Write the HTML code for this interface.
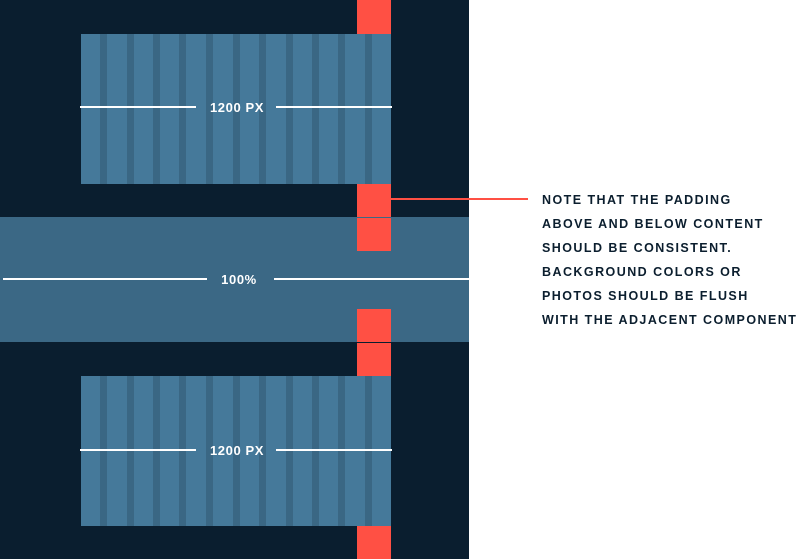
<!DOCTYPE html>
<html><head><meta charset="utf-8"><style>
html,body{margin:0;padding:0;background:#fff;width:797px;height:559px;overflow:hidden}
svg{display:block}
</style></head><body>
<svg width="797" height="559" viewBox="0 0 797 559" xmlns="http://www.w3.org/2000/svg">
<rect x="0" y="0" width="469" height="559" fill="#0a1e2f"/>
<rect x="0" y="217" width="469" height="125" fill="#3b6885"/>
<g fill="#45799a">
<rect x="81" y="34" width="310" height="150"/>
<rect x="81" y="376" width="310" height="150"/>
</g>
<g fill="#3a6784">
<rect x="100" y="34" width="7" height="150"/><rect x="127" y="34" width="7" height="150"/><rect x="153" y="34" width="7" height="150"/><rect x="179" y="34" width="7" height="150"/><rect x="206" y="34" width="7" height="150"/><rect x="233" y="34" width="7" height="150"/><rect x="259" y="34" width="7" height="150"/><rect x="286" y="34" width="7" height="150"/><rect x="312" y="34" width="7" height="150"/><rect x="338" y="34" width="7" height="150"/><rect x="365" y="34" width="7" height="150"/>
<rect x="100" y="376" width="7" height="150"/><rect x="127" y="376" width="7" height="150"/><rect x="153" y="376" width="7" height="150"/><rect x="179" y="376" width="7" height="150"/><rect x="206" y="376" width="7" height="150"/><rect x="233" y="376" width="7" height="150"/><rect x="259" y="376" width="7" height="150"/><rect x="286" y="376" width="7" height="150"/><rect x="312" y="376" width="7" height="150"/><rect x="338" y="376" width="7" height="150"/><rect x="365" y="376" width="7" height="150"/>
</g>
<g fill="#ff5044">
<rect x="357" y="0" width="34" height="34"/>
<rect x="357" y="184" width="34" height="33"/>
<rect x="357" y="218" width="34" height="33"/>
<rect x="357" y="309" width="34" height="33"/>
<rect x="357" y="343" width="34" height="33"/>
<rect x="357" y="526" width="34" height="33"/>
</g>
<rect x="391" y="198" width="137" height="2" fill="#ff5044"/>
<g fill="#fff">
<rect x="80" y="106" width="116" height="2"/><rect x="276" y="106" width="116" height="2"/>
<rect x="80" y="449" width="116" height="2"/><rect x="276" y="449" width="116" height="2"/>
<rect x="3" y="278" width="204" height="2"/><rect x="274" y="278" width="195" height="2"/>
</g>
<g font-family="Liberation Sans, sans-serif" font-weight="bold" font-size="13" fill="#fff" text-anchor="middle" letter-spacing="0.6">
<text x="237" y="112">1200 PX</text>
<text x="237" y="455">1200 PX</text>
<text x="239" y="284">100%</text>
</g>
<g font-family="Liberation Sans, sans-serif" font-size="12.5" fill="#0b1e2e" letter-spacing="1.45" style="font-weight:600">
<text x="542" y="204">NOTE THAT THE PADDING</text>
<text x="542" y="228">ABOVE AND BELOW CONTENT</text>
<text x="542" y="252">SHOULD BE CONSISTENT.</text>
<text x="542" y="276">BACKGROUND COLORS OR</text>
<text x="542" y="300">PHOTOS SHOULD BE FLUSH</text>
<text x="542" y="324">WITH THE ADJACENT COMPONENT</text>
</g>
</svg>
</body></html>
